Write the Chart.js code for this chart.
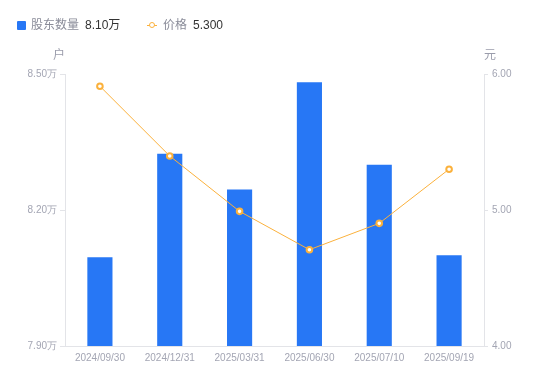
<!DOCTYPE html>
<html>
<head>
<meta charset="utf-8">
<script src="https://cdn.jsdelivr.net/npm/chart.js@4"></script>
<style>
    html, body { margin: 0; padding: 0; background: #fff; }
    #wrap { position: relative; width: 550px; height: 381px; font-family: "Liberation Sans", "Noto Sans CJK SC", sans-serif; }
    #legend { position: absolute; left: 0; top: 0; width: 550px; height: 40px; font-size: 12px; }
    .item { position: absolute; top: 17px; line-height: 16px; white-space: nowrap; }
    .lbl { color: #8a8c99; }
    .val { color: #333; margin-left: 6px; }
    .sq { display: inline-block; width: 9px; height: 9px; background: #2777f5; border-radius: 1px; vertical-align: -1px; margin-right: 5px; }
    .ln { display: inline-block; position: relative; width: 10px; height: 16px; vertical-align: top; margin-right: 6px; }
    .ln::before { content: ""; position: absolute; left: 0; right: 0; top: 8px; height: 1px; background: #fbb13c; }
    .ln::after { content: ""; position: absolute; left: 2px; top: 5px; width: 4px; height: 4px; border: 1.5px solid #fbb13c; border-radius: 50%; background: #fff; }
    canvas { position: absolute; left: 0; top: 0; }
</style>
</head>
<body>
<div id="wrap">
    <canvas id="chart" width="550" height="381"></canvas>
    <div id="legend">
        <div class="item" style="left:17px"><span class="sq"></span><span class="lbl">股东数量</span><span class="val">8.10万</span></div>
        <div class="item" style="left:147px"><span class="ln"></span><span class="lbl">价格</span><span class="val">5.300</span></div>
    </div>
</div>
<script>
// ---------------------------
// Data
// ---------------------------
const dates = ["2024/09/30", "2024/12/31", "2025/03/31", "2025/06/30", "2025/07/10", "2025/09/19"];
const holders = [8.096, 8.324, 8.245, 8.482, 8.300, 8.100];   // 万户
const prices = [5.910, 5.397, 4.990, 4.708, 4.902, 5.300];    // 元
const holderTicks = [7.90, 8.20, 8.50];
const priceTicks = [4.00, 5.00, 6.00];

const BLUE = "#2777f5";
const ORANGE = "#fbb13c";
const GREY = "#a3a5b3";
const AXIS = "#e3e4e8";

// unit labels above the two y axes
const unitLabels = {
    id: "unitLabels",
    afterDraw(chart) {
        const ctx = chart.ctx;
        const a = chart.chartArea;
        ctx.save();
        ctx.font = '12px "Liberation Sans", "Noto Sans CJK SC", sans-serif';
        ctx.fillStyle = "#9a9cab";
        ctx.textAlign = "center";
        ctx.textBaseline = "middle";
        ctx.fillText("户", a.left - 6, 56);
        ctx.fillText("元", a.right + 6, 56);
        ctx.restore();
    }
};

new Chart(document.getElementById("chart"), {
    type: "bar",
    data: {
        labels: dates,
        datasets: [
            {
                type: "line",
                label: "价格",
                data: prices,
                yAxisID: "y1",
                borderColor: ORANGE,
                borderWidth: 1,
                pointRadius: 2.8,
                pointBorderWidth: 2,
                pointBackgroundColor: "#fff",
                pointBorderColor: ORANGE,
                tension: 0,
                order: 0
            },
            {
                label: "股东数量",
                data: holders,
                yAxisID: "y",
                backgroundColor: BLUE,
                borderWidth: 0,
                categoryPercentage: 1,
                barPercentage: 0.36,
                order: 1
            }
        ]
    },
    options: {
        responsive: false,
        animation: false,
        layout: { padding: { top: 74, bottom: 0, left: 0, right: 0 } },
        plugins: { legend: { display: false }, tooltip: { enabled: false } },
        scales: {
            x: {
                grid: { display: false, drawTicks: false, tickLength: 0 },
                border: { display: true, color: AXIS },
                ticks: { color: GREY, font: { size: 10 }, padding: 6, maxRotation: 0 },
                afterFit: s => { s.height = 35; }
            },
            y: {
                position: "left",
                min: 7.9,
                max: 8.5,
                afterBuildTicks: s => { s.ticks = holderTicks.map(v => ({ value: v })); },
                grid: { drawOnChartArea: false, tickLength: 5, color: AXIS },
                border: { color: AXIS },
                ticks: { color: GREY, font: { size: 10 }, padding: 3, callback: v => v.toFixed(2) + "万" },
                afterFit: s => { s.width = 65; }
            },
            y1: {
                position: "right",
                min: 4,
                max: 6,
                afterBuildTicks: s => { s.ticks = priceTicks.map(v => ({ value: v })); },
                grid: { drawOnChartArea: false, tickLength: 4, color: AXIS },
                border: { color: AXIS },
                ticks: { color: GREY, font: { size: 10 }, padding: 4, callback: v => v.toFixed(2) },
                afterFit: s => { s.width = 66; }
            }
        }
    },
    plugins: [unitLabels]
});
</script>
</body>
</html>
